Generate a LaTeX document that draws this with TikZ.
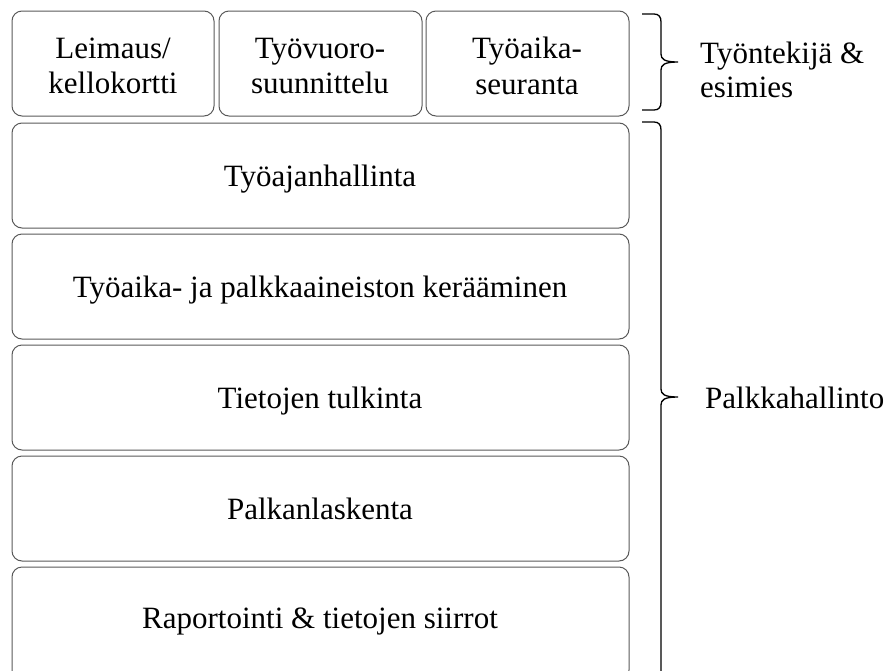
\documentclass[tikz,border=0pt]{standalone}
\usepackage{fontspec}
\setmainfont{Liberation Serif}
\begin{document}
\begin{tikzpicture}[x=1pt,y=-1pt,
  box/.style={draw=black!65, line width=1pt, rounded corners=10pt},
  txt/.style={font=\fontsize{31}{35.5}\selectfont, align=center, inner sep=0pt},
  rowtxt/.style={font=\fontsize{31}{35.5}\selectfont, inner sep=0pt, anchor=base},
  lbl/.style={font=\fontsize{31}{34}\selectfont, align=left, inner sep=0pt, anchor=west},
  bracestroke/.style={draw=black, line width=1.3pt}]
\useasboundingbox (0,0) rectangle (892,670);
% top boxes
\draw[box] (12,11) rectangle (214,116);
\draw[box] (219,11) rectangle (422,116);
\draw[box] (426,11) rectangle (629,116);
\node[txt] (t1) at (113,66) {Leimaus/\\kellokortti};
\node[txt] (t2) at (320,66) {Työvuoro-\\suunnittelu};
\node[txt] (t3) at (527,66) {Työaika-\\seuranta};
% rows
\draw[box] (12,123) rectangle (629,228);
\draw[box] (12,234) rectangle (629,339);
\draw[box] (12,345) rectangle (629,450);
\draw[box] (12,456) rectangle (629,561);
\draw[box] (12,567) rectangle (629,680);
\node[rowtxt] (r1) at (320,186) {Työajanhallinta};
\node[rowtxt] (r2) at (320,297) {Työaika- ja palkkaaineiston kerääminen};
\node[rowtxt] (r3) at (320,408) {Tietojen tulkinta};
\node[rowtxt] (r4) at (320,519) {Palkanlaskenta};
\node[rowtxt] (r5) at (320,628) {Raportointi \& tietojen siirrot};
% braces
\draw[bracestroke] (642,14) -- (654,14) .. controls (659,14) and (661,17) .. (661,22)
  -- (661,54) .. controls (661,59) and (664,62) .. (678,62)
  .. controls (664,62) and (661,65) .. (661,70)
  -- (661,102) .. controls (661,107) and (659,110) .. (654,110) -- (642,110);
\draw[bracestroke] (642,122) -- (654,122) .. controls (659,122) and (661,125) .. (661,130)
  -- (661,389) .. controls (661,394) and (664,397) .. (678,397)
  .. controls (664,397) and (661,400) .. (661,405)
  -- (661,690);
\node[lbl] (l1) at (700,70) {Työntekijä \&\\esimies};
\node[lbl] (l2) at (705,398) {Palkkahallinto};
\end{tikzpicture}
\end{document}
